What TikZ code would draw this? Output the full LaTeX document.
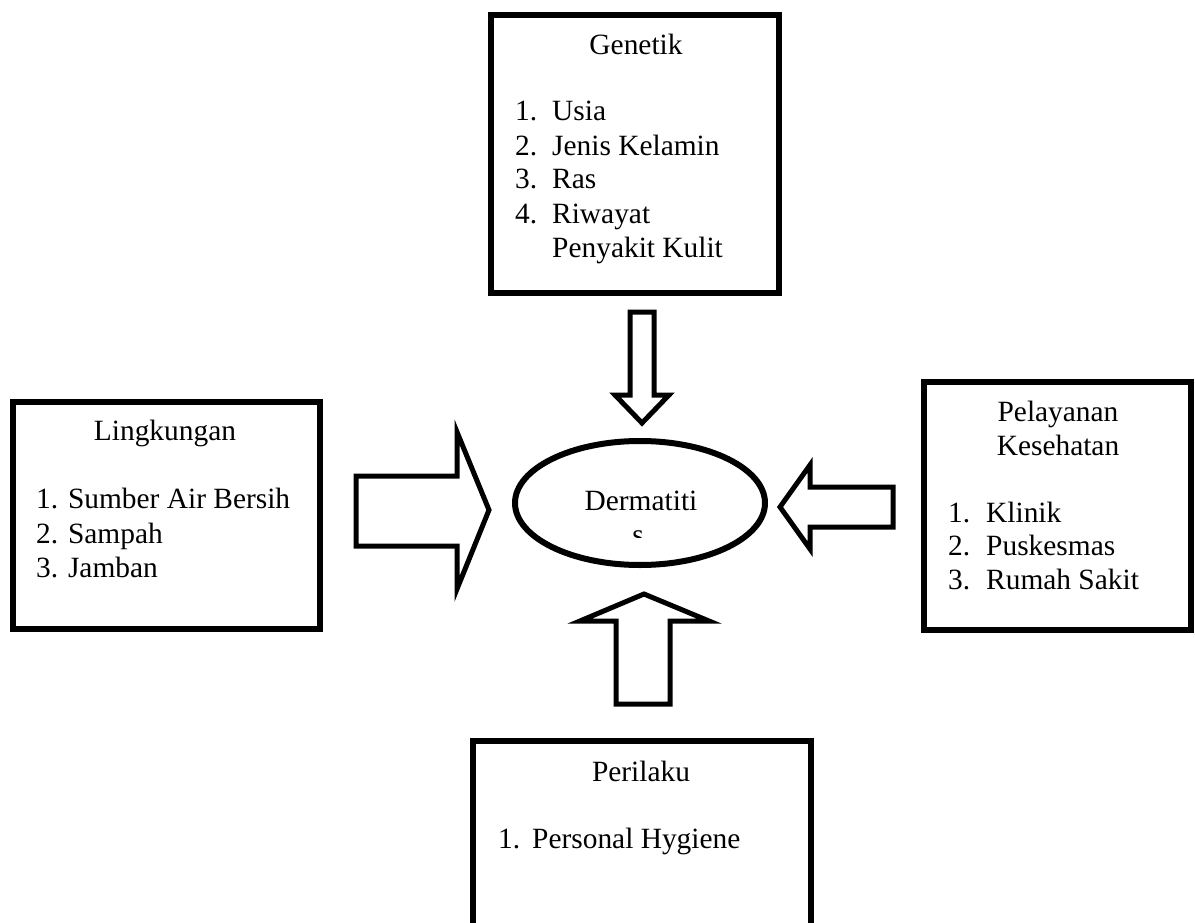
\documentclass[tikz,border=0pt]{standalone}
\usepackage{fontspec}
\setmainfont{Liberation Serif}
\tikzset{
  box/.style={draw, line width=6.5pt, inner sep=0pt},
  blockarrow/.style={draw, line width=5pt, fill=white, line join=miter},
  txt/.style={inner sep=0pt, font=\fontsize{29.4}{34}\selectfont},
}
\begin{document}
\begin{tikzpicture}[x=1pt,y=-1pt]
\useasboundingbox (0,0) rectangle (1195,923);
\fill[white] (0,0) rectangle (1195,923);
% boxes
\draw[box] (491,15) rectangle (779,293);
\node[inner sep=0pt] (gen) at (635,154) {};
\draw[box] (13,402) rectangle (320,629);
\node[inner sep=0pt] (lin) at (166,515) {};
\draw[box] (924,382) rectangle (1191,630);
\node[inner sep=0pt] (pel) at (1057,506) {};
\begin{scope}
\clip (0,0) rectangle (1195,923);
\draw[box] (473,741) rectangle (811,980);
\end{scope}
\node[inner sep=0pt] (per) at (642,830) {};
% Genetik text
\node[txt, anchor=base] at (636,55) {Genetik};
\node[txt, anchor=base west] at (515,121) {1.};
\node[txt, anchor=base west] at (552,121) {Usia};
\node[txt, anchor=base west] at (515,156) {2.};
\node[txt, anchor=base west] at (552,156) {Jenis Kelamin};
\node[txt, anchor=base west] at (515,189) {3.};
\node[txt, anchor=base west] at (552,189) {Ras};
\node[txt, anchor=base west] at (515,223) {4.};
\node[txt, anchor=base west] at (552,223) {Riwayat};
\node[txt, anchor=base west] at (552,257) {Penyakit Kulit};
% Lingkungan text
\node[txt, anchor=base] at (165,440) {Lingkungan};
\node[txt, anchor=base west] at (36,508) {1. Sumber Air Bersih};
\node[txt, anchor=base west] at (36,543) {2. Sampah};
\node[txt, anchor=base west] at (36,577) {3. Jamban};
% Pelayanan text
\node[txt, anchor=base] at (1058,421) {Pelayanan};
\node[txt, anchor=base] at (1058,455) {Kesehatan};
\node[txt, anchor=base west] at (948,522) {1.};
\node[txt, anchor=base west] at (986,522) {Klinik};
\node[txt, anchor=base west] at (948,555) {2.};
\node[txt, anchor=base west] at (986,555) {Puskesmas};
\node[txt, anchor=base west] at (948,589) {3.};
\node[txt, anchor=base west] at (986,589) {Rumah Sakit};
% Perilaku text
\node[txt, anchor=base] at (641,781) {Perilaku};
\node[txt, anchor=base west] at (498,848) {1.};
\node[txt, anchor=base west] at (532,848) {Personal Hygiene};
% ellipse
\draw[line width=6pt] (640,503) ellipse [x radius=125, y radius=62];
\node[inner sep=0pt] (der) at (640,503) {};
\node[txt, anchor=base] at (641,510) {Dermatiti};
\begin{scope}
\clip (600,520) rectangle (680,537);
\node[txt, anchor=base] at (638,544) {s};
\end{scope}
% block arrows
\draw[blockarrow] (630,312) -- (654,312) -- (654,395) -- (669,395) -- (642,423) -- (615,395) -- (630,395) -- cycle;
\draw[blockarrow] (356,476) -- (457,476) -- (457,432) -- (489,510) -- (457,589) -- (457,546) -- (356,546) -- cycle;
\draw[blockarrow] (893,487) -- (810,487) -- (810,465) -- (780,507) -- (810,549) -- (810,527) -- (893,527) -- cycle;
\draw[blockarrow] (616,704) -- (616,621) -- (580,621) -- (644,594) -- (709,621) -- (670,621) -- (670,704) -- cycle;
\end{tikzpicture}
\end{document}
